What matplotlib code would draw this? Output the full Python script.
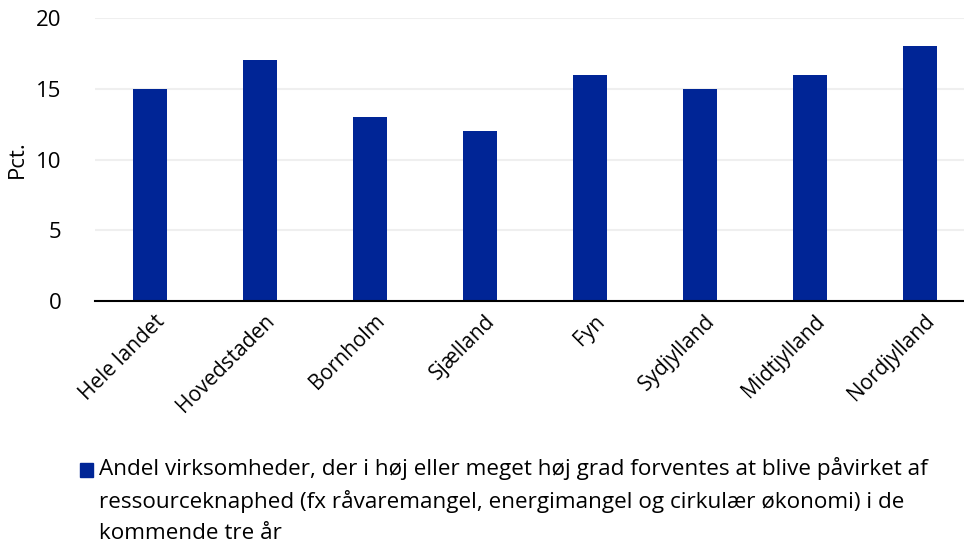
import matplotlib
matplotlib.use("Agg")
import matplotlib.pyplot as plt
from matplotlib.patches import Rectangle
from matplotlib.transforms import ScaledTranslation

plt.rcParams['font.family'] = ['Open Sans', 'DejaVu Sans']

regions = ["Hele landet", "Hovedstaden", "Bornholm", "Sjælland", "Fyn",
           "Sydjylland", "Midtjylland", "Nordjylland"]
shares = [15, 17, 13, 12, 16, 15, 16, 18]
yticks = [0, 5, 10, 15, 20]
legend_text = ("Andel virksomheder, der i høj eller meget høj grad forventes at blive påvirket af\n"
               "ressourceknaphed (fx råvaremangel, energimangel og cirkulær økonomi) i de\n"
               "kommende tre år")

bar_color = "#002596"

fig = plt.figure(figsize=(9.64, 5.42), dpi=100)
ax = fig.add_axes([95 / 964, 1 - 301 / 542, 880 / 964, 283 / 542])

x = list(range(len(regions)))
ax.bar(x, shares, width=0.31, color=bar_color, zorder=3)

ax.set_xlim(-0.5, 7.5)
ax.set_ylim(0, 20)
ax.set_yticks(yticks)
ax.yaxis.grid(True, color="#efefef", linewidth=1.5, zorder=0)
ax.set_axisbelow(True)

for s in ["top", "right", "left"]:
    ax.spines[s].set_visible(False)
ax.spines["bottom"].set_color("black")
ax.spines["bottom"].set_linewidth(1.5)
ax.spines["bottom"].set_zorder(4)

ax.tick_params(axis="y", length=0, labelsize=16, pad=24, colors="black")
ax.tick_params(axis="x", length=0, labelsize=15, pad=7)
ax.set_xticks(x)
ax.set_xticklabels(regions, rotation=45, ha="right", rotation_mode="anchor")
shift = ScaledTranslation(4 / 100, 0, fig.dpi_scale_trans)
for lbl in ax.get_xticklabels():
    lbl.set_transform(lbl.get_transform() + shift)
ax.set_ylabel("Pct.", fontsize=16, labelpad=6)

# legend marker and wrapped description
fig.patches.append(Rectangle((80 / 964, 1 - 477 / 542), 13 / 964, 14 / 542,
                             transform=fig.transFigure, color=bar_color))
fig.text(99 / 964, 1 - 457 / 542, legend_text, fontsize=16.2, va="top", ha="left",
         linespacing=1.58)

fig.savefig("out.png", dpi=100)
